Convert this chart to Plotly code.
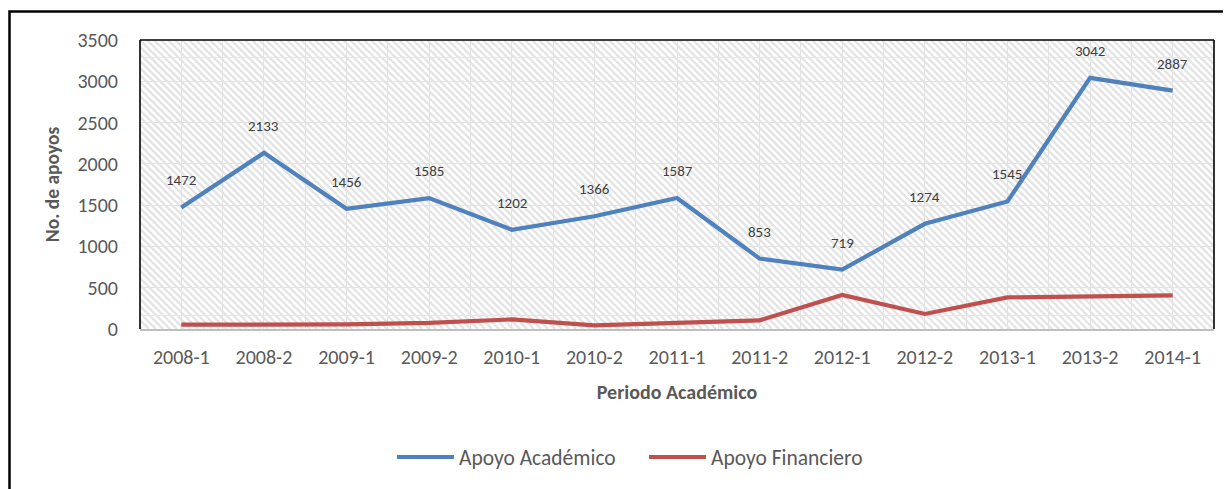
import base64
import plotly.graph_objects as go

# ---------------- data ----------------
periods = ["2008-1", "2008-2", "2009-1", "2009-2", "2010-1", "2010-2", "2011-1",
           "2011-2", "2012-1", "2012-2", "2013-1", "2013-2", "2014-1"]
apoyo_academico = [1472, 2133, 1456, 1585, 1202, 1366, 1587, 853, 719, 1274, 1545, 3042, 2887]
apoyo_financiero = [52, 50, 55, 73, 116, 44, 73, 104, 412, 182, 383, 395, 407]
y_ticks = [0, 500, 1000, 1500, 2000, 2500, 3000, 3500]

series_names = ["Apoyo Académico", "Apoyo Financiero"]
series_colors = ["#4F81BD", "#C0504D"]

FONT = "Carlito, Calibri, Liberation Sans, Arial, sans-serif"
GRAY = "#595959"

# page has an 8px body margin; figure coordinates = page coordinates - 8
OFF = 8
W, H = 1231 - OFF, 489 - OFF
L, T = 140 - OFF, 40 - OFF
PW, PH = 1074, 289
R, B = W - L - PW, H - T - PH

# ---------------- hatch background (decoration) ----------------
s = 7
lines = []
for k in range(-PH // s - 2, PW // s + 2):
    x0 = k * s
    lines.append(f'<line x1="{x0}" y1="0" x2="{x0 + PH}" y2="{PH}" />')
svg = (f'<svg xmlns="http://www.w3.org/2000/svg" width="{PW}" height="{PH}" '
       f'viewBox="0 0 {PW} {PH}" preserveAspectRatio="none">'
       f'<rect width="{PW}" height="{PH}" fill="#ffffff"/>'
       f'<g stroke="#e4e4e4" stroke-width="2.3">' + "".join(lines) + '</g>'
       f'<g stroke="#e6e6e6" stroke-width="1">'
       f'<line x1="0" y1="{57.5 - 40}" x2="{PW}" y2="{57.5 - 40}"/>'
       f'<line x1="0" y1="{315.5 - 40}" x2="{PW}" y2="{315.5 - 40}"/>'
       f'</g></svg>')
svg_uri = "data:image/svg+xml;base64," + base64.b64encode(svg.encode()).decode()

# ---------------- figure ----------------
xs = list(range(len(periods)))
fig = go.Figure()
for name, vals, col in zip(series_names, [apoyo_academico, apoyo_financiero], series_colors):
    fig.add_trace(go.Scatter(
        x=xs, y=vals, name=name, mode="lines",
        line=dict(color=col, width=4.2),
        hoverinfo="skip",
    ))

for i, v in enumerate(apoyo_academico):
    fig.add_annotation(x=xs[i], y=v, text=str(v), showarrow=False,
                       yshift=27, font=dict(family=FONT, size=15, color="#404040"))

fig.add_layout_image(dict(
    source=svg_uri, xref="paper", yref="paper", x=0, y=1, sizex=1, sizey=1,
    xanchor="left", yanchor="top", sizing="stretch", layer="below",
))

# plot area border: top, left, right in black
for x0, x1, y0, y1 in [(0, 1, 1, 1), (0, 0, 0, 1), (1, 1, 0, 1)]:
    fig.add_shape(type="line", xref="paper", yref="paper", x0=x0, x1=x1, y0=y0, y1=y1,
                  line=dict(color="black", width=1.6))

# outer chart border
fig.add_shape(type="rect", xref="paper", yref="paper",
              x0=(9.5 - 140) / PW, x1=(1245 - 140) / PW,
              y0=-(500 - 329) / PH, y1=1 + (40 - 11.5) / PH,
              line=dict(color="black", width=2.5), fillcolor="rgba(0,0,0,0)")

fig.update_layout(
    width=W, height=H,
    margin=dict(l=L, r=R, t=T, b=B, pad=0),
    paper_bgcolor="white", plot_bgcolor="white",
    font=dict(family=FONT, color=GRAY),
    showlegend=True,
    legend=dict(orientation="h", x=(392 - 140) / PW, xanchor="left", y=-0.443, yanchor="middle",
                font=dict(family=FONT, size=21.5, color=GRAY), bgcolor="rgba(0,0,0,0)",
                itemwidth=57, tracegroupgap=0, entrywidth=180, entrywidthmode="pixels"),
    xaxis=dict(
        range=[-0.5, len(periods) - 0.5], tickmode="array", tickvals=xs, ticktext=periods,
        showgrid=True, gridcolor="#e3e3e3", gridwidth=1,
        minor=dict(tickmode="linear", tick0=0.5, dtick=1, showgrid=True,
                   gridcolor="#e3e3e3", gridwidth=1),
        showline=True, linecolor="#bfbfbf", linewidth=1.6,
        ticks="", ticklabelstandoff=9,
        tickfont=dict(family=FONT, size=20, color=GRAY),
        title=dict(text="<b>Periodo Académico</b>", standoff=17,
                   font=dict(family=FONT, size=20, color=GRAY)),
        zeroline=False, fixedrange=True,
    ),
    yaxis=dict(
        range=[0, 3500], tickmode="array", tickvals=y_ticks,
        showgrid=True, gridcolor="#e3e3e3", gridwidth=1,
        showline=False, ticks="", ticklabelstandoff=21,
        tickfont=dict(family=FONT, size=20, color=GRAY),
        title=dict(text="<b>No. de apoyos</b>", standoff=12,
                   font=dict(family=FONT, size=19.5, color=GRAY)),
        zeroline=False, fixedrange=True,
    ),
)

fig.write_html("out.html")
